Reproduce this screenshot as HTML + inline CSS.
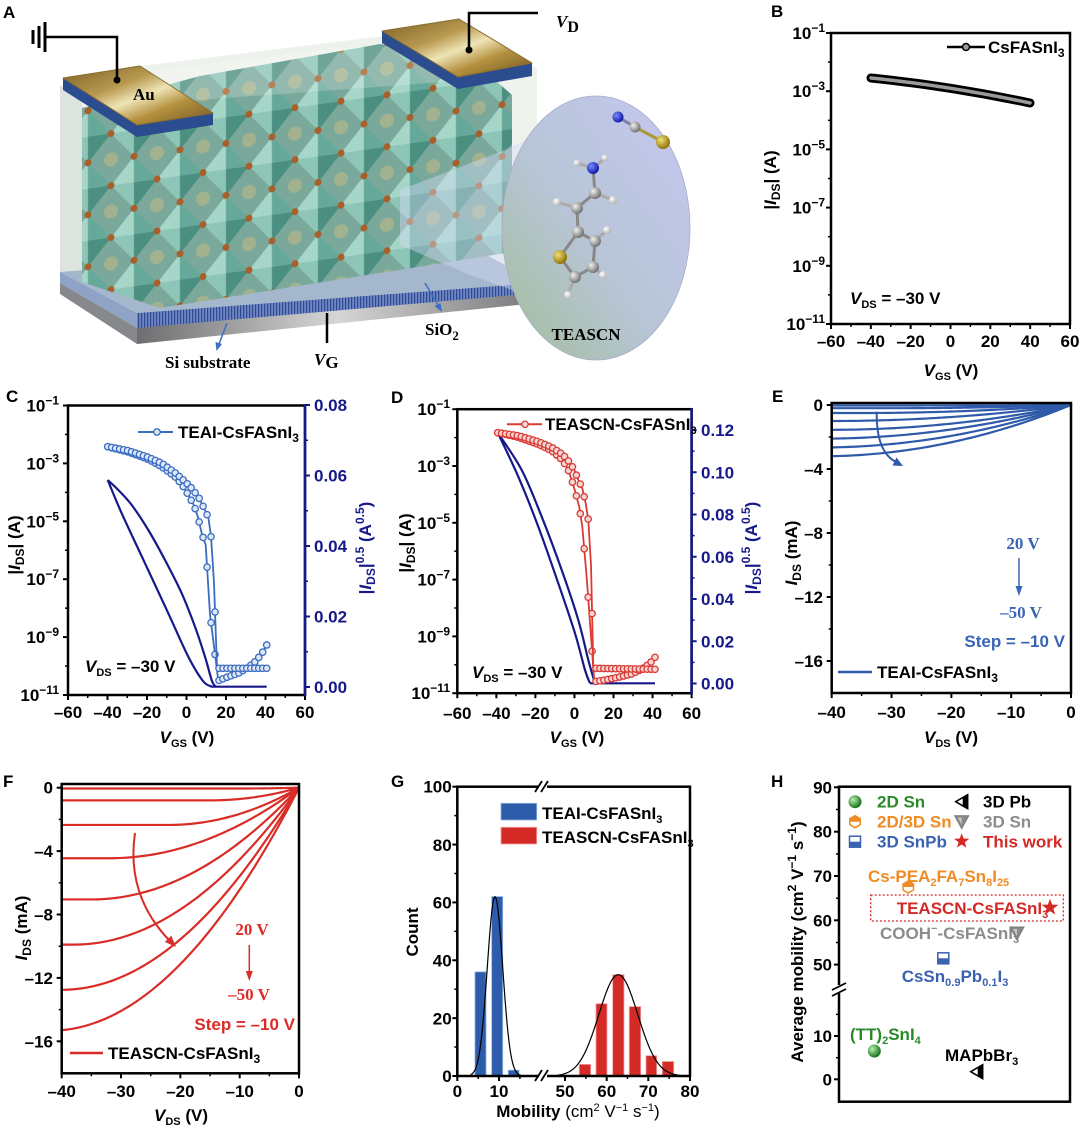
<!DOCTYPE html>
<html><head><meta charset="utf-8"><title>Figure</title>
<style>
html,body{margin:0;padding:0;background:#fff}
svg{display:block}
text{font-family:"Liberation Sans",Arial,sans-serif;font-weight:bold;font-size:17px}
.sr{font-family:"Liberation Serif","Times New Roman",serif}
.it{font-style:italic}
.reg{font-weight:normal}
</style></head><body>
<svg id="s" xmlns="http://www.w3.org/2000/svg" width="1080" height="1126" viewBox="0 0 1080 1126">
<defs>
 <linearGradient id="gold" x1="0" y1="0" x2="1" y2="1">
  <stop offset="0" stop-color="#7a5f25"/><stop offset="0.35" stop-color="#b8994f"/><stop offset="0.52" stop-color="#efe4b6"/><stop offset="0.7" stop-color="#b4913f"/><stop offset="1" stop-color="#6f5420"/>
 </linearGradient>
 <linearGradient id="grayS" x1="0" y1="0" x2="1" y2="0">
  <stop offset="0" stop-color="#6e6e70"/><stop offset="0.5" stop-color="#d6d6d6"/><stop offset="1" stop-color="#77777a"/>
 </linearGradient>
 <linearGradient id="ell" x1="0" y1="1" x2="1" y2="0">
  <stop offset="0" stop-color="#a3bd98"/><stop offset="0.45" stop-color="#b7c5d6"/><stop offset="1" stop-color="#c6c8f2"/>
 </linearGradient>
 <pattern id="oct" patternUnits="userSpaceOnUse" width="46" height="52" patternTransform="translate(65,10) skewY(-8)">
  <rect width="46" height="52" fill="#7aa89b"/>
  <circle cx="0" cy="0" r="7" fill="#d2c07e" opacity="0.45"/>
  <circle cx="46" cy="0" r="7" fill="#d2c07e" opacity="0.45"/>
  <circle cx="0" cy="52" r="7" fill="#d2c07e" opacity="0.45"/>
  <circle cx="46" cy="52" r="7" fill="#d2c07e" opacity="0.45"/>
  <polygon points="23,0 0,26 23,26" fill="#a6d6c8"/>
  <polygon points="23,0 46,26 23,26" fill="#66a99a"/>
  <polygon points="0,26 23,52 23,26" fill="#8dc5b6"/>
  <polygon points="46,26 23,52 23,26" fill="#4b8f80"/>
  <circle cx="23" cy="0" r="3.5" fill="#a85f2a"/>
  <circle cx="0" cy="26" r="3.5" fill="#a85f2a"/>
  <circle cx="46" cy="26" r="3.5" fill="#a85f2a"/>
  <circle cx="23" cy="52" r="3.5" fill="#a85f2a"/>
 </pattern>
 <pattern id="strp" patternUnits="userSpaceOnUse" width="3" height="40"><rect width="3" height="40" fill="#6f86c0"/><rect width="1.2" height="40" fill="#2f4a94"/></pattern>
 <radialGradient id="gC" cx="0.35" cy="0.35" r="0.7"><stop offset="0" stop-color="#f0f0f0"/><stop offset="1" stop-color="#6c6c6c"/></radialGradient>
 <radialGradient id="gH" cx="0.35" cy="0.35" r="0.7"><stop offset="0" stop-color="#ffffff"/><stop offset="1" stop-color="#b0b0b0"/></radialGradient>
 <radialGradient id="gN" cx="0.35" cy="0.35" r="0.7"><stop offset="0" stop-color="#7a8cff"/><stop offset="1" stop-color="#0a14a0"/></radialGradient>
 <radialGradient id="gS" cx="0.35" cy="0.35" r="0.7"><stop offset="0" stop-color="#f2e07a"/><stop offset="1" stop-color="#8a6d00"/></radialGradient>
 <radialGradient id="gG" cx="0.35" cy="0.35" r="0.7"><stop offset="0" stop-color="#b8f0b0"/><stop offset="1" stop-color="#0b6b12"/></radialGradient>
</defs>
<rect width="1080" height="1126" fill="#fff"/>

<!-- ================= PANEL A ================= -->
<g id="A">
<polygon points="60,86 140,66 384,36 460,28 537,68 537,286 137,332 60,292" fill="#eef2ec"/>
<polygon points="60,86 82,92 82,282 60,290" fill="#dde3dd"/>
<polygon points="60,272 460,240 537,283 137,313" fill="#a5b7cc"/>
<polygon points="60,272 137,313 137,328 60,283" fill="#8ea3c6"/>
<polygon points="60,283 137,328 137,344 60,294" fill="#86888c"/>
<polygon points="137,327 537,291 537,303 137,344" fill="url(#grayS)"/>
<polygon points="137,313 537,283 537,293 137,328" fill="url(#strp)"/>
<polygon points="82,108 200,76 380,44 470,58 512,95 512,252 160,308 82,282" fill="url(#oct)"/>
<polygon points="140,72 380,44 470,58 470,80 200,100 140,110" fill="#ffffff" opacity="0.2"/>
<!-- pads -->
<polygon points="63,78 63,90 137,137 213,125 213,113 137,125" fill="#2b4c8e"/>
<polygon points="63,78 140,66 213,113 137,125" fill="url(#gold)" stroke="#8a6e2e" stroke-width="1" stroke-linejoin="round"/>
<polygon points="382,31 382,43 458,89 532,76 532,63 458,77" fill="#2b4c8e"/>
<polygon points="382,31 459,19 532,63 458,77" fill="url(#gold)" stroke="#8a6e2e" stroke-width="1" stroke-linejoin="round"/>
<!-- wires -->
<line x1="45" y1="22" x2="45" y2="52" stroke="#000" stroke-width="3"/>
<line x1="39" y1="26" x2="39" y2="48" stroke="#000" stroke-width="3"/>
<line x1="33" y1="30" x2="33" y2="44" stroke="#000" stroke-width="3"/>
<polyline points="45,37 117,37 117,80" fill="none" stroke="#000" stroke-width="2.5"/>
<circle cx="117" cy="80" r="3.5" fill="#000"/>
<polyline points="538,13 469,13 469,50" fill="none" stroke="#000" stroke-width="2.5"/>
<circle cx="469" cy="50" r="3.5" fill="#000"/>
<line x1="327" y1="313" x2="327" y2="343" stroke="#000" stroke-width="2.5"/>
<!-- small arrows -->
<line x1="227" y1="323" x2="219" y2="344" stroke="#3a6fc4" stroke-width="1.5"/>
<polygon points="216.5,351 215.5,342 222,344" fill="#3a6fc4"/>
<line x1="425" y1="283" x2="438" y2="305" stroke="#3a6fc4" stroke-width="1.5"/>
<polygon points="442,312 434.5,306 440.5,303" fill="#3a6fc4"/>
<!-- beam + ellipse -->
<polygon points="400,190 505,150 612,96 690,228 600,356 540,300 470,275 400,245" fill="#d0dcf4" opacity="0.45"/>
<ellipse cx="596" cy="228" rx="94" ry="132" fill="url(#ell)" stroke="#a9acc8" stroke-width="0.8"/>
<!-- molecule -->
<g stroke-width="3" stroke-linecap="round">
<line x1="618" y1="117" x2="635" y2="127" stroke="#7f7fa8"/>
<line x1="635" y1="127" x2="663" y2="142" stroke="#a8983a"/>
<line x1="593" y1="168" x2="595" y2="193" stroke="#888"/>
<line x1="593" y1="168" x2="577" y2="163" stroke="#aaa"/>
<line x1="593" y1="168" x2="605" y2="158" stroke="#aaa"/>
<line x1="595" y1="193" x2="577" y2="208" stroke="#888"/>
<line x1="595" y1="193" x2="613" y2="200" stroke="#aaa"/>
<line x1="577" y1="208" x2="557" y2="202" stroke="#aaa"/>
<line x1="577" y1="208" x2="578" y2="232" stroke="#888"/>
<polyline points="578,232 595,241 593,267 575,277 560,257 578,232" fill="none" stroke="#888"/>
<line x1="595" y1="241" x2="607" y2="230" stroke="#aaa"/>
<line x1="593" y1="267" x2="603" y2="275" stroke="#aaa"/>
<line x1="575" y1="277" x2="568" y2="295" stroke="#aaa"/>
</g>
<circle cx="618" cy="117" r="5.5" fill="url(#gN)"/>
<circle cx="635" cy="127" r="5.5" fill="url(#gC)"/>
<circle cx="663" cy="142" r="7" fill="url(#gS)"/>
<circle cx="577" cy="163" r="3.5" fill="url(#gH)"/>
<circle cx="605" cy="158" r="3.5" fill="url(#gH)"/>
<circle cx="593" cy="168" r="6" fill="url(#gN)"/>
<circle cx="613" cy="200" r="4" fill="url(#gH)"/>
<circle cx="595" cy="193" r="6" fill="url(#gC)"/>
<circle cx="557" cy="202" r="4" fill="url(#gH)"/>
<circle cx="577" cy="208" r="6" fill="url(#gC)"/>
<circle cx="607" cy="230" r="4" fill="url(#gH)"/>
<circle cx="578" cy="232" r="6" fill="url(#gC)"/>
<circle cx="595" cy="241" r="6" fill="url(#gC)"/>
<circle cx="603" cy="275" r="4" fill="url(#gH)"/>
<circle cx="593" cy="267" r="6" fill="url(#gC)"/>
<circle cx="568" cy="295" r="4" fill="url(#gH)"/>
<circle cx="575" cy="277" r="6" fill="url(#gC)"/>
<circle cx="560" cy="257" r="7" fill="url(#gS)"/>
<!-- texts A -->
<text x="3" y="18" font-size="17">A</text>
<text class="sr" x="133" y="100" font-size="18">Au</text>
<text class="sr" x="556" y="27" font-size="25"><tspan class="it">V</tspan><tspan font-size="16" dy="5">D</tspan></text>
<text class="sr" x="314" y="365" font-size="25"><tspan class="it">V</tspan><tspan font-size="17" dy="3">G</tspan></text>
<text class="sr" x="165" y="368" font-size="19">Si substrate</text>
<text class="sr" x="425" y="335" font-size="19">SiO<tspan font-size="13" dy="5">2</tspan></text>
<text class="sr" x="586" y="340" font-size="20" text-anchor="middle">TEASCN</text>
</g>

<!-- dynamic geometry (ticks, curves) -->
<g id="dyn"></g>

<!-- ================= PANEL B ================= -->
<g id="B">
<text x="771" y="17" font-size="17">B</text>
<path d="M871,78 Q950,86 1030,103" fill="none" stroke="#000" stroke-width="9" stroke-linecap="round"/>
<path d="M871,78 Q950,86 1030,103" fill="none" stroke="#9a9a9a" stroke-width="3.5" stroke-linecap="round" stroke-dasharray="2.5 1.2"/>
<rect x="831" y="33" width="239" height="291" fill="none" stroke="#000" stroke-width="2.5"/>
<line x1="947" y1="47" x2="985" y2="47" stroke="#000" stroke-width="2.5"/>
<circle cx="966" cy="47" r="3.5" fill="#999" stroke="#000" stroke-width="1.5"/>
<text x="988" y="53">CsFASnI<tspan font-size="12" dy="4">3</tspan></text>
<text x="850" y="304" font-size="16"><tspan class="it">V</tspan><tspan font-size="11" dy="4">DS</tspan><tspan dy="-4"> = –30 V</tspan></text>
<g text-anchor="middle">
<text x="831" y="347">–60</text><text x="870.8" y="347">–40</text><text x="910.7" y="347">–20</text><text x="950.5" y="347">0</text><text x="990.3" y="347">20</text><text x="1030.2" y="347">40</text><text x="1070" y="347">60</text>
</g>
<g text-anchor="end">
<text x="825" y="39">10<tspan font-size="12" dy="-7">−1</tspan></text>
<text x="825" y="97.2">10<tspan font-size="12" dy="-7">−3</tspan></text>
<text x="825" y="155.4">10<tspan font-size="12" dy="-7">−5</tspan></text>
<text x="825" y="213.6">10<tspan font-size="12" dy="-7">−7</tspan></text>
<text x="825" y="271.8">10<tspan font-size="12" dy="-7">−9</tspan></text>
<text x="825" y="330">10<tspan font-size="12" dy="-7">−11</tspan></text>
</g>
<text x="951" y="376" text-anchor="middle" font-size="16"><tspan class="it">V</tspan><tspan font-size="11" dy="4">GS</tspan><tspan dy="-4"> (V)</tspan></text>
<text transform="translate(776,180) rotate(-90)" text-anchor="middle">|<tspan class="it">I</tspan><tspan font-size="12" dy="4">DS</tspan><tspan dy="-4">| (A)</tspan></text>
</g>

<!-- ================= PANEL C ================= -->
<g id="C">
<text x="6" y="402" font-size="17">C</text>
<rect x="68" y="405.5" width="237" height="289.5" fill="none" stroke="#000" stroke-width="2.5"/>
<line x1="305" y1="404.3" x2="305" y2="696.2" stroke="#16198a" stroke-width="2.5"/>
<line x1="138" y1="432" x2="173" y2="432" stroke="#3a6cc0" stroke-width="2"/>
<circle cx="157" cy="432" r="3.2" fill="#dfe7f5" stroke="#3a6cc0" stroke-width="1.3"/>
<text x="178" y="438" font-size="16">TEAI-CsFASnI<tspan font-size="12" dy="4">3</tspan></text>
<text x="85" y="672" font-size="16"><tspan class="it">V</tspan><tspan font-size="11" dy="4">DS</tspan><tspan dy="-4"> = –30 V</tspan></text>
<g text-anchor="middle">
<text x="68" y="718">–60</text><text x="107.5" y="718">–40</text><text x="147" y="718">–20</text><text x="186.5" y="718">0</text><text x="226" y="718">20</text><text x="265.5" y="718">40</text><text x="305" y="718">60</text>
</g>
<g text-anchor="end">
<text x="59" y="411.5">10<tspan font-size="12" dy="-7">−1</tspan></text>
<text x="59" y="469.4">10<tspan font-size="12" dy="-7">−3</tspan></text>
<text x="59" y="527.3">10<tspan font-size="12" dy="-7">−5</tspan></text>
<text x="59" y="585.2">10<tspan font-size="12" dy="-7">−7</tspan></text>
<text x="59" y="643.1">10<tspan font-size="12" dy="-7">−9</tspan></text>
<text x="59" y="701">10<tspan font-size="12" dy="-7">−11</tspan></text>
</g>
<g fill="#16198a">
<text x="314" y="411">0.08</text><text x="314" y="481.5">0.06</text><text x="314" y="552">0.04</text><text x="314" y="622.5">0.02</text><text x="314" y="693">0.00</text>
<text transform="translate(371,548) rotate(-90)" text-anchor="middle">|<tspan class="it">I</tspan><tspan font-size="12" dy="4">DS</tspan><tspan dy="-4">|</tspan><tspan font-size="12" dy="-7">0.5</tspan><tspan dy="7"> (A</tspan><tspan font-size="12" dy="-7">0.5</tspan><tspan dy="7">)</tspan></text>
</g>
<text x="187" y="743" text-anchor="middle" font-size="16"><tspan class="it">V</tspan><tspan font-size="11" dy="4">GS</tspan><tspan dy="-4"> (V)</tspan></text>
<text transform="translate(20,545) rotate(-90)" text-anchor="middle">|<tspan class="it">I</tspan><tspan font-size="12" dy="4">DS</tspan><tspan dy="-4">| (A)</tspan></text>
</g>

<!-- ================= PANEL D ================= -->
<g id="D">
<text x="391" y="403" font-size="17">D</text>
<rect x="457.3" y="409.2" width="234.3" height="284" fill="none" stroke="#000" stroke-width="2.5"/>
<line x1="691.6" y1="408" x2="691.6" y2="694.4" stroke="#16198a" stroke-width="2.5"/>
<line x1="507" y1="424.3" x2="542" y2="424.3" stroke="#d93a34" stroke-width="2"/>
<circle cx="525" cy="424.3" r="3.2" fill="#f5d5d3" stroke="#d93a34" stroke-width="1.3"/>
<text x="545" y="430" font-size="15.2">TEASCN-CsFASnI<tspan font-size="11" dy="4">3</tspan></text>
<text x="472" y="678" font-size="16"><tspan class="it">V</tspan><tspan font-size="11" dy="4">DS</tspan><tspan dy="-4"> = –30 V</tspan></text>
<g text-anchor="middle">
<text x="457.3" y="719">–60</text><text x="496.4" y="719">–40</text><text x="535.4" y="719">–20</text><text x="574.5" y="719">0</text><text x="613.5" y="719">20</text><text x="652.6" y="719">40</text><text x="691.6" y="719">60</text>
</g>
<g text-anchor="end">
<text x="450" y="415.2">10<tspan font-size="12" dy="-7">−1</tspan></text>
<text x="450" y="472">10<tspan font-size="12" dy="-7">−3</tspan></text>
<text x="450" y="528.8">10<tspan font-size="12" dy="-7">−5</tspan></text>
<text x="450" y="585.6">10<tspan font-size="12" dy="-7">−7</tspan></text>
<text x="450" y="642.4">10<tspan font-size="12" dy="-7">−9</tspan></text>
<text x="450" y="699.2">10<tspan font-size="12" dy="-7">−11</tspan></text>
</g>
<g fill="#16198a">
<text x="701" y="436">0.12</text><text x="701" y="478.3">0.10</text><text x="701" y="520.5">0.08</text><text x="701" y="562.8">0.06</text><text x="701" y="605">0.04</text><text x="701" y="647.3">0.02</text><text x="701" y="689.5">0.00</text>
<text transform="translate(757,548) rotate(-90)" text-anchor="middle">|<tspan class="it">I</tspan><tspan font-size="12" dy="4">DS</tspan><tspan dy="-4">|</tspan><tspan font-size="12" dy="-7">0.5</tspan><tspan dy="7"> (A</tspan><tspan font-size="12" dy="-7">0.5</tspan><tspan dy="7">)</tspan></text>
</g>
<text x="577" y="743" text-anchor="middle" font-size="16"><tspan class="it">V</tspan><tspan font-size="11" dy="4">GS</tspan><tspan dy="-4"> (V)</tspan></text>
<text transform="translate(411,543) rotate(-90)" text-anchor="middle">|<tspan class="it">I</tspan><tspan font-size="12" dy="4">DS</tspan><tspan dy="-4">| (A)</tspan></text>
</g>

<!-- ================= PANEL E ================= -->
<g id="E">
<text x="772" y="402" font-size="17">E</text>
<rect x="831.7" y="403" width="239.3" height="290" fill="none" stroke="#000" stroke-width="2.5"/>
<path d="M876.7,411.7 Q876,452 896,462" fill="none" stroke="#2f5aaa" stroke-width="2"/>
<polygon points="903,466 892.5,465.5 896.5,457.5" fill="#2f5aaa"/>
<text class="sr" x="1023" y="549" font-size="18" text-anchor="middle" fill="#3a64b8">20 V</text>
<line x1="1019" y1="558" x2="1019" y2="588" stroke="#3a64b8" stroke-width="1.5"/>
<polygon points="1019,596 1015.5,586 1022.5,586" fill="#3a64b8"/>
<text class="sr" x="1021" y="618" font-size="18" text-anchor="middle" fill="#3a64b8">–50 V</text>
<text x="1065" y="647" font-size="16.5" text-anchor="end" fill="#3a64b8">Step = –10 V</text>
<line x1="838" y1="672" x2="872" y2="672" stroke="#2f5aaa" stroke-width="2.5"/>
<text x="877" y="678" font-size="16.5">TEAI-CsFASnI<tspan font-size="12" dy="4">3</tspan></text>
<g text-anchor="middle">
<text x="831.7" y="718">–40</text><text x="891.5" y="718">–30</text><text x="951.3" y="718">–20</text><text x="1011.2" y="718">–10</text><text x="1071" y="718">0</text>
</g>
<g text-anchor="end">
<text x="823" y="411">0</text><text x="823" y="475">–4</text><text x="823" y="539">–8</text><text x="823" y="603">–12</text><text x="823" y="667">–16</text>
</g>
<text x="951" y="743" text-anchor="middle" font-size="16"><tspan class="it">V</tspan><tspan font-size="11" dy="4">DS</tspan><tspan dy="-4"> (V)</tspan></text>
<text transform="translate(797,553) rotate(-90)" text-anchor="middle"><tspan class="it">I</tspan><tspan font-size="12" dy="4">DS</tspan><tspan dy="-4"> (mA)</tspan></text>
</g>

<!-- ================= PANEL F ================= -->
<g id="F">
<text x="3" y="787" font-size="17">F</text>
<rect x="61.7" y="784" width="237.3" height="289.3" fill="none" stroke="#000" stroke-width="2.5"/>
<path d="M135,833 C128,880 145,915 169,940" fill="none" stroke="#da2c27" stroke-width="2"/>
<polygon points="176,947 164.9,941.9 171.3,935.7" fill="#da2c27"/>
<text class="sr" x="252" y="935" font-size="18" text-anchor="middle" fill="#da2c27">20 V</text>
<line x1="249.3" y1="945" x2="249.3" y2="973" stroke="#da2c27" stroke-width="1.5"/>
<polygon points="249.3,981 245.8,971 252.8,971" fill="#da2c27"/>
<text class="sr" x="249" y="1000" font-size="18" text-anchor="middle" fill="#da2c27">–50 V</text>
<text x="295" y="1030" font-size="16.5" text-anchor="end" fill="#da2c27">Step = –10 V</text>
<line x1="70" y1="1053" x2="103" y2="1053" stroke="#da2c27" stroke-width="2.5"/>
<text x="108" y="1059" font-size="15.8">TEASCN-CsFASnI<tspan font-size="12" dy="4">3</tspan></text>
<g text-anchor="middle">
<text x="61.7" y="1097">–40</text><text x="121" y="1097">–30</text><text x="180.4" y="1097">–20</text><text x="239.7" y="1097">–10</text><text x="299" y="1097">0</text>
</g>
<g text-anchor="end">
<text x="53" y="793.7">0</text><text x="53" y="857.1">–4</text><text x="53" y="920.5">–8</text><text x="53" y="983.9">–12</text><text x="53" y="1047.3">–16</text>
</g>
<text x="181" y="1121" text-anchor="middle" font-size="16"><tspan class="it">V</tspan><tspan font-size="11" dy="4">DS</tspan><tspan dy="-4"> (V)</tspan></text>
<text transform="translate(27,928) rotate(-90)" text-anchor="middle"><tspan class="it">I</tspan><tspan font-size="12" dy="4">DS</tspan><tspan dy="-4"> (mA)</tspan></text>
</g>

<!-- ================= PANEL G ================= -->
<g id="G">
<text x="391" y="787" font-size="17">G</text>
<g fill="#2c5caa" stroke="#8fb0e0" stroke-width="0.8">
<rect x="475" y="971.9" width="11" height="104.1"/>
<rect x="491.7" y="896.6" width="11" height="179.4"/>
<rect x="508.3" y="1070.2" width="10.7" height="5.8"/>
</g>
<g fill="#d42b27" stroke="#f0a0a0" stroke-width="0.8">
<rect x="579.3" y="1064.4" width="11.4" height="11.6"/>
<rect x="596" y="1003.7" width="11" height="72.3"/>
<rect x="612.7" y="974.7" width="11.3" height="101.3"/>
<rect x="629.3" y="1006.6" width="11.4" height="69.4"/>
<rect x="646" y="1055.7" width="10.7" height="20.3"/>
<rect x="662.3" y="1061.5" width="11.4" height="14.5"/>
</g>
<g id="gcurves"></g>
<rect x="457.3" y="786.7" width="232.7" height="289.3" fill="none" stroke="#000" stroke-width="2.5"/>
<rect x="539" y="782" width="8" height="9" fill="#fff"/>
<line x1="535" y1="792" x2="542" y2="781" stroke="#000" stroke-width="1.8"/>
<line x1="541" y1="792" x2="548" y2="781" stroke="#000" stroke-width="1.8"/>
<rect x="539" y="1071" width="8" height="9" fill="#fff"/>
<line x1="535" y1="1081" x2="542" y2="1070" stroke="#000" stroke-width="1.8"/>
<line x1="541" y1="1081" x2="548" y2="1070" stroke="#000" stroke-width="1.8"/>
<rect x="501" y="803.3" width="35.7" height="16.7" fill="#2c5caa" stroke="#8fb0e0" stroke-width="0.8"/>
<rect x="501" y="827.3" width="35.7" height="16.7" fill="#d42b27" stroke="#f0a0a0" stroke-width="0.8"/>
<text x="542" y="819" font-size="15.5">TEAI-CsFASnI<tspan font-size="11" dy="4">3</tspan></text>
<text x="542" y="843" font-size="15.2">TEASCN-CsFASnI<tspan font-size="11" dy="4">3</tspan></text>
<g text-anchor="end">
<text x="451.7" y="792.7">100</text><text x="451.7" y="851">80</text><text x="451.7" y="908.7">60</text><text x="451.7" y="966.7">40</text><text x="451.7" y="1024.3">20</text><text x="451.7" y="1082">0</text>
</g>
<g text-anchor="middle">
<text x="457.3" y="1097">0</text><text x="499" y="1097">10</text><text x="565" y="1097">50</text><text x="606.7" y="1097">60</text><text x="648.3" y="1097">70</text><text x="690" y="1097">80</text>
</g>
<text x="578" y="1117" text-anchor="middle" font-size="16">Mobility<tspan class="reg"> (cm<tspan font-size="11" dy="-6">2</tspan><tspan dy="6"> V</tspan><tspan font-size="11" dy="-6">−1</tspan><tspan dy="6"> s</tspan><tspan font-size="11" dy="-6">−1</tspan><tspan dy="6">)</tspan></tspan></text>
<text transform="translate(418,932) rotate(-90)" text-anchor="middle" font-size="16">Count</text>
</g>

<!-- ================= PANEL H ================= -->
<g id="H">
<text x="771" y="787" font-size="17">H</text>
<rect x="839" y="786.7" width="231" height="315" fill="none" stroke="#000" stroke-width="2.5"/>
<rect x="834" y="985" width="10" height="8" fill="#fff"/>
<line x1="832" y1="990" x2="846" y2="983" stroke="#000" stroke-width="1.8"/>
<line x1="832" y1="996" x2="846" y2="989" stroke="#000" stroke-width="1.8"/>
<g text-anchor="end">
<text x="832" y="793.3">90</text><text x="832" y="837.7">80</text><text x="832" y="882">70</text><text x="832" y="926.3">60</text><text x="832" y="970.6">50</text><text x="832" y="1042">10</text><text x="832" y="1085.3">0</text>
</g>
<text transform="translate(803,942) rotate(-90)" text-anchor="middle" font-size="18">Average mobility (cm<tspan font-size="12" dy="-7">2</tspan><tspan dy="7"> V</tspan><tspan font-size="12" dy="-7">−1</tspan><tspan dy="7"> s</tspan><tspan font-size="12" dy="-7">−1</tspan><tspan dy="7">)</tspan></text>
<!-- legend -->
<circle cx="855" cy="801.7" r="6.5" fill="url(#gG)"/>
<text x="877" y="807.5" font-size="16.5" fill="#2a8a2a">2D Sn</text>
<polygon points="955.7,801.7 967.7,794.7 967.7,808.7" fill="#fff" stroke="#000" stroke-width="1.5"/>
<polygon points="962.7,797.6 967.7,794.7 967.7,808.7 962.7,805.8" fill="#000"/>
<text x="983" y="807.5" font-size="16.5">3D Pb</text>
<polygon points="855,815.7 860.2,818.7 860.2,824.7 855,827.7 849.8,824.7 849.8,818.7" fill="#fff" stroke="#f08a24" stroke-width="1.5"/>
<polygon points="849.8,818.7 855,815.7 860.2,818.7 860.2,821.7 849.8,821.7" fill="#f08a24"/>
<text x="877" y="827.5" font-size="16.5" fill="#f08a24">2D/3D Sn</text>
<polygon points="954.7,815.7 968.7,815.7 961.7,828.7" fill="#8a8a8a" stroke="#777" stroke-width="1"/>
<polygon points="957.7,817.5 961.7,817.5 961.7,824.5" fill="#c8c8c8"/>
<text x="983" y="827.5" font-size="16.5" fill="#8c8c8c">3D Sn</text>
<rect x="849.5" y="836.2" width="11" height="11" fill="#fff" stroke="#3b62b0" stroke-width="1.5"/>
<rect x="849.5" y="841.7" width="11" height="5.5" fill="#3b62b0"/>
<text x="877" y="847.5" font-size="16.5" fill="#3b62b0">3D SnPb</text>
<polygon transform="translate(961.7,841.2)" points="0,-8 1.94,-2.67 7.61,-2.47 3.14,1.02 4.7,6.47 0,3.3 -4.7,6.47 -3.14,1.02 -7.61,-2.47 -1.94,-2.67" fill="#d42a26"/>
<text x="983" y="847.5" font-size="16.5" fill="#d42a26">This work</text>
<!-- data labels -->
<text x="868" y="882" font-size="15.6" fill="#f08a24">Cs-PEA<tspan font-size="11" dy="4">2</tspan><tspan dy="-4">FA</tspan><tspan font-size="11" dy="4">7</tspan><tspan dy="-4">Sn</tspan><tspan font-size="11" dy="4">8</tspan><tspan dy="-4">I</tspan><tspan font-size="11" dy="4">25</tspan></text>
<polygon points="908.3,881 913.5,884 913.5,890 908.3,893 903.1,890 903.1,884" fill="#fff" stroke="#f08a24" stroke-width="1.5"/>
<polygon points="903.1,884 908.3,881 913.5,884 913.5,887 903.1,887" fill="#f08a24"/>
<rect x="870.7" y="895" width="192.6" height="26" fill="none" stroke="#d42a26" stroke-width="1.3" stroke-dasharray="2 2"/>
<text x="896.7" y="914" font-size="15.5" fill="#d42a26">TEASCN-CsFASnI<tspan font-size="11" dy="4">3</tspan></text>
<polygon transform="translate(1050,907.5) scale(1.1)" points="0,-8 1.94,-2.67 7.61,-2.47 3.14,1.02 4.7,6.47 0,3.3 -4.7,6.47 -3.14,1.02 -7.61,-2.47 -1.94,-2.67" fill="#d42a26"/>
<text x="880" y="939" font-size="15.3" fill="#8c8c8c">COOH<tspan font-size="11" dy="-7">−</tspan><tspan dy="7">-CsFASnI</tspan><tspan font-size="11" dy="4">3</tspan></text>
<polygon points="1010,927 1024,927 1017,940" fill="#8a8a8a" stroke="#777" stroke-width="1"/>
<polygon points="1013,929 1017,929 1017,936" fill="#c8c8c8"/>
<rect x="937.8" y="952.8" width="11" height="11" fill="#fff" stroke="#3b62b0" stroke-width="1.5"/>
<rect x="937.8" y="958.3" width="11" height="5.5" fill="#3b62b0"/>
<text x="901.7" y="982" font-size="15.6" fill="#3b62b0">CsSn<tspan font-size="11" dy="4">0.9</tspan><tspan dy="-4">Pb</tspan><tspan font-size="11" dy="4">0.1</tspan><tspan dy="-4">I</tspan><tspan font-size="11" dy="4">3</tspan></text>
<text x="850" y="1040" font-size="16.5" fill="#2a8a2a">(TT)<tspan font-size="11" dy="4">2</tspan><tspan dy="-4">SnI</tspan><tspan font-size="11" dy="4">4</tspan></text>
<circle cx="874.3" cy="1051" r="6.5" fill="url(#gG)"/>
<text x="945" y="1061" font-size="16.5">MAPbBr<tspan font-size="11" dy="4">3</tspan></text>
<polygon points="970.7,1071.7 982.7,1064.7 982.7,1078.7" fill="#fff" stroke="#000" stroke-width="1.5"/>
<polygon points="977.7,1067.6 982.7,1064.7 982.7,1078.7 977.7,1075.8" fill="#000"/>
</g>

</svg>
<script>
(function(){
var NS='http://www.w3.org/2000/svg';
var G=document.getElementById('dyn');
function el(t,a,par){var e=document.createElementNS(NS,t);for(var k in a)e.setAttribute(k,a[k]);(par||G).appendChild(e);return e;}
function ln(x1,y1,x2,y2,c,w){el('line',{x1:x1,y1:y1,x2:x2,y2:y2,stroke:c||'#000','stroke-width':w||2});}
function pl(pts,c,w,par){var d='M'+pts.map(function(p){return p[0].toFixed(2)+','+p[1].toFixed(2);}).join('L');return el('path',{d:d,fill:'none',stroke:c,'stroke-width':w,'stroke-linejoin':'round','stroke-linecap':'round'},par);}
function cr(pts){var d='M'+pts[0][0]+','+pts[0][1];
 for(var i=0;i<pts.length-1;i++){var p0=pts[i-1]||pts[i],p1=pts[i],p2=pts[i+1],p3=pts[i+2]||p2;
  var c1=[p1[0]+(p2[0]-p0[0])/6,p1[1]+(p2[1]-p0[1])/6],c2=[p2[0]-(p3[0]-p1[0])/6,p2[1]-(p3[1]-p1[1])/6];
  d+='C'+c1[0].toFixed(2)+','+c1[1].toFixed(2)+' '+c2[0].toFixed(2)+','+c2[1].toFixed(2)+' '+p2[0].toFixed(2)+','+p2[1].toFixed(2);}
 return d;}
function sm(pts,c,w){el('path',{d:cr(pts),fill:'none',stroke:c,'stroke-width':w,'stroke-linejoin':'round'});}
function tk(dir,x,y,len,c,w){c=c||'#000';w=w||2;if(dir=='d')ln(x,y,x,y+len,c,w);else if(dir=='l')ln(x,y,x-len,y,c,w);else ln(x,y,x+len,y,c,w);}
function iy(pts,x){for(var i=0;i<pts.length-1;i++){var a=pts[i],b=pts[i+1];if(x>=a[0]&&x<=b[0]){var t=(b[0]-a[0])?(x-a[0])/(b[0]-a[0]):0;return a[1]+t*(b[1]-a[1]);}}return pts[pts.length-1][1];}
function mk(pts,x0,x1,n,c,f){pl(pts,c,1.8);for(var i=0;i<=n;i++){var x=x0+(x1-x0)*i/n;var y=iy(pts,x);el('circle',{cx:x.toFixed(2),cy:y.toFixed(2),r:3.2,fill:f,stroke:c,'stroke-width':1.3});}}
var i,NV='#16198a';
// B ticks
for(i=0;i<=6;i++)tk('d',831+i*39.833,324,5);for(i=0;i<6;i++)tk('d',831+(i+0.5)*39.833,324,3,'#000',1.5);
for(i=0;i<=5;i++)tk('l',831,33+i*58.2,5);for(i=0;i<5;i++)tk('l',831,33+(i+0.5)*58.2,3,'#000',1.5);
// C ticks
for(i=0;i<=6;i++)tk('d',68+i*39.5,695,5);for(i=0;i<6;i++)tk('d',68+(i+0.5)*39.5,695,3,'#000',1.5);
for(i=0;i<=5;i++)tk('l',68,405.5+i*57.9,5);for(i=0;i<5;i++)tk('l',68,405.5+(i+0.5)*57.9,3,'#000',1.5);
for(i=0;i<=4;i++)tk('r',305,687-i*70.5,5,NV);for(i=0;i<4;i++)tk('r',305,687-(i+0.5)*70.5,3,NV,1.5);
// D ticks
for(i=0;i<=6;i++)tk('d',457.3+i*39.05,693.2,5);for(i=0;i<6;i++)tk('d',457.3+(i+0.5)*39.05,693.2,3,'#000',1.5);
for(i=0;i<=5;i++)tk('l',457.3,409.2+i*56.8,5);for(i=0;i<5;i++)tk('l',457.3,409.2+(i+0.5)*56.8,3,'#000',1.5);
for(i=0;i<=6;i++)tk('r',691.6,683.5-i*42.25,5,NV);for(i=0;i<6;i++)tk('r',691.6,683.5-(i+0.5)*42.25,3,NV,1.5);
// E ticks
for(i=0;i<=4;i++)tk('d',831.7+i*59.83,693,5);for(i=0;i<4;i++)tk('d',831.7+(i+0.5)*59.83,693,3,'#000',1.5);
for(i=0;i<=4;i++)tk('l',831.7,405+i*64,5);for(i=0;i<4;i++)tk('l',831.7,405+(i+0.5)*64,3,'#000',1.5);
// F ticks
for(i=0;i<=4;i++)tk('d',61.7+i*59.33,1073.3,5);for(i=0;i<4;i++)tk('d',61.7+(i+0.5)*59.33,1073.3,3,'#000',1.5);
for(i=0;i<=4;i++)tk('l',61.7,787.7+i*63.4,5);for(i=0;i<4;i++)tk('l',61.7,787.7+(i+0.5)*63.4,3,'#000',1.5);
// G ticks
[457.3,499,565,606.7,648.3,690].forEach(function(x){tk('d',x,1076,5);});
[478.2,519.9,585.9,627.5,669.2].forEach(function(x){tk('d',x,1076,3,'#000',1.5);});
for(i=0;i<=5;i++)tk('l',457.3,1076-i*57.86,5);for(i=0;i<5;i++)tk('l',457.3,1076-(i+0.5)*57.86,3,'#000',1.5);
// H ticks
[787.3,831.7,876,920.3,964.6,1036,1079.3].forEach(function(y){tk('l',839,y,5);});
[809.5,853.9,898.2,942.5,1014.4,1057.7].forEach(function(y){tk('l',839,y,3,'#000',1.5);});

// C data
var BL='#3a6cc0',BF='#dfe7f5';
sm([[107.7,480],[118.3,490],[131.7,505],[148.3,530],[165,560],[181.7,593.3],[195,626.7],[205,656.7],[212,681],[216,686.7]],NV,2.2);
sm([[107.7,480],[121.7,513.3],[145,563.3],[168.3,613.3],[188.3,656.7],[203,681],[211.7,686.7]],NV,2.2);
ln(211,686.7,266.7,686.7,NV,2.2);
var cOut=[[107.7,446.7],[128.3,450.7],[148.3,457.3],[161.7,463.3],[175,472.7],[183.3,480],[191.7,488.3],[198.3,496.7],[203.3,506.7],[208.3,517.3],[211,536],[214,582.7],[217,668.3],[266.7,668.3]];
var cIn=[[107.7,446.7],[128.3,452],[148.3,459.3],[161.7,466.7],[175,476.7],[182.3,485],[188.3,495],[194.3,506],[198.3,518.3],[201.7,533.3],[205.7,545],[210,614.3],[218.3,680.7],[228.3,676.7],[238.3,673.3],[248.3,667.3],[255,661.7],[261.7,654],[266.7,645]];
mk(cIn,107.7,266.7,40,BL,BF);mk(cOut,107.7,266.7,40,BL,BF);
// D data
var RD='#d93a34',RF='#f5d5d3';
sm([[497.7,432.7],[521.7,470],[541.7,516.7],[561.7,570],[578.3,620],[588.3,660],[595,683.3]],NV,2.2);
sm([[497.7,432.7],[518.3,476.7],[538.3,526.7],[558.3,583.3],[575,633.3],[585,670],[590,683.3]],NV,2.2);
ln(590,683.3,655,683.3,NV,2.2);
var dOut=[[497.7,432.7],[518.3,435.7],[538.3,441.7],[551.7,447.3],[563.3,455],[570,462.7],[574.3,470],[578.3,480],[582.3,488.3],[585.7,503.3],[588.3,520],[591,565],[593.3,668.3],[655,669.3]];
var dIn=[[497.7,432.7],[518.3,437.3],[538.3,444.3],[551.7,450.7],[561.7,459.3],[567.7,468.3],[572.3,481.7],[575.7,493.3],[579.3,507.3],[582.3,526.7],[586.7,577.3],[594.3,681.7],[605,680],[618.3,677.3],[631.7,674],[641.7,669.3],[650,663.3],[655,657.3]];
mk(dIn,497.7,655,40,RD,RF);mk(dOut,497.7,655,40,RD,RF);
// E/F curves
function fq(v,vs){var u=Math.min(1,Math.abs(v)/vs);return 2*u-u*u;}
[[0.03,30],[0.2,30],[0.5,35],[1.0,40],[1.55,40],[2.1,42],[2.65,42],[3.2,42]].forEach(function(a){var pts=[];for(var v=-40;v<=0.001;v+=0.5){pts.push([1071+v*5.98,405+a[0]*fq(v,a[1])/fq(-40,a[1])*16]);}pl(pts,'#2f5aaa',2.2);});
[[0.05,10],[0.8,15],[2.35,22],[4.45,32],[7.05,35],[9.9,38],[12.75,40],[15.3,42]].forEach(function(a){var pts=[];for(var v=-40;v<=0.001;v+=0.5){pts.push([299+v*5.93,787.7+a[0]*fq(v,a[1])/fq(-40,a[1])*15.85]);}pl(pts,'#da2c27',2.2);});
// G gaussians
var GC=document.getElementById('gcurves');
function gs(mu,sig,h,xa,xb){var pts=[];for(var x=xa;x<=xb;x+=1){pts.push([x,1076-h*Math.exp(-(x-mu)*(x-mu)/(2*sig*sig))]);}pl(pts,'#000',1.2,GC);}
gs(495,7.7,179.4,471,520);gs(618.3,19.5,101.3,558,680);
})();
</script>
</body></html>
